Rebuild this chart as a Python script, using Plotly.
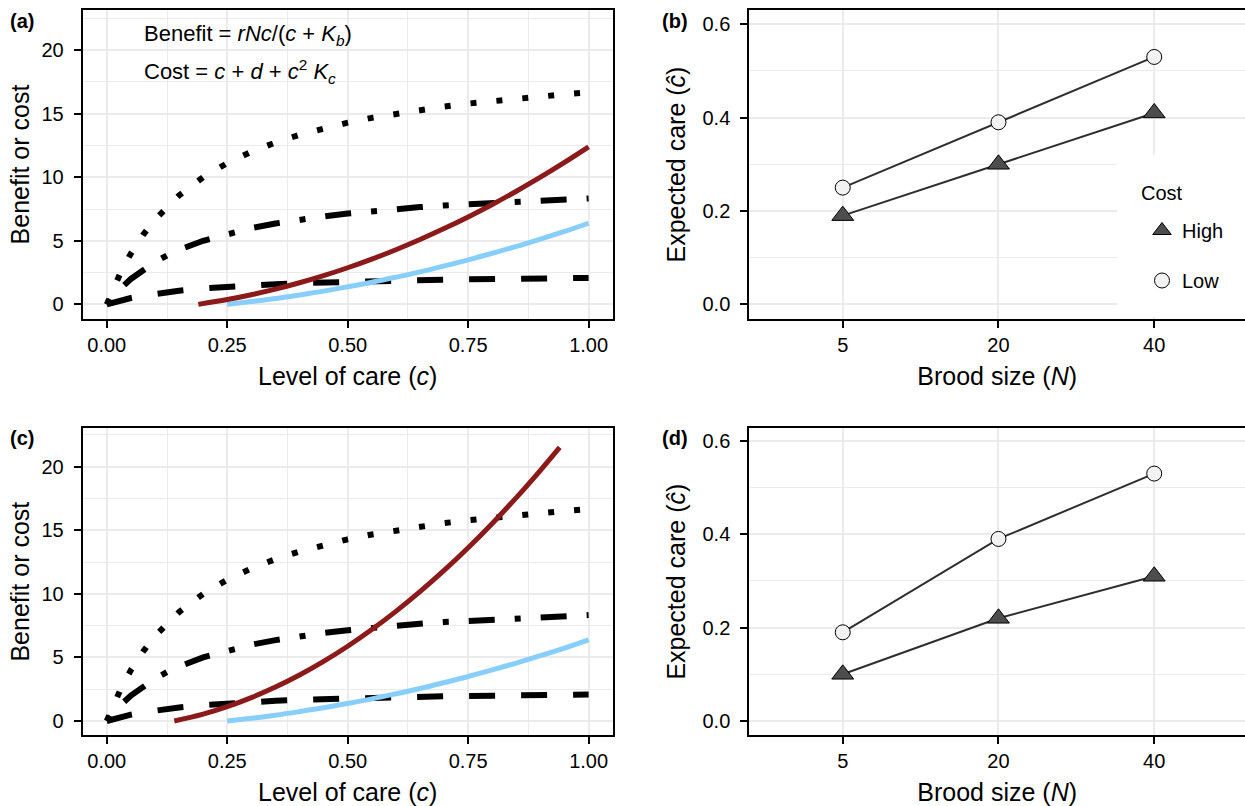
import plotly.graph_objects as go

# ---------------- data ----------------
care_levels = [0, 0.01, 0.02, 0.03, 0.05, 0.075, 0.1, 0.125, 0.15, 0.2, 0.25, 0.3, 0.35,
               0.4, 0.45, 0.5, 0.55, 0.6, 0.65, 0.7, 0.75, 0.8, 0.85, 0.9, 0.95, 1.0]
benefit_n40 = [0, 0.95, 1.82, 2.61, 4.0, 5.45, 6.67, 7.69, 8.57, 10.0, 11.11, 12.0, 12.73,
               13.33, 13.85, 14.29, 14.67, 15.0, 15.29, 15.56, 15.79, 16.0, 16.19, 16.36, 16.52, 16.67]
benefit_n20 = [0, 0.48, 0.91, 1.30, 2.0, 2.73, 3.33, 3.85, 4.29, 5.0, 5.56, 6.0, 6.36,
               6.67, 6.92, 7.14, 7.33, 7.5, 7.65, 7.78, 7.89, 8.0, 8.1, 8.18, 8.26, 8.33]
benefit_n5 = [0, 0.12, 0.23, 0.33, 0.5, 0.68, 0.83, 0.96, 1.07, 1.25, 1.39, 1.5, 1.59,
              1.67, 1.73, 1.79, 1.83, 1.88, 1.91, 1.94, 1.97, 2.0, 2.02, 2.05, 2.07, 2.08]

low_cost_care = [0.25, 0.3, 0.35, 0.4, 0.45, 0.5, 0.55, 0.6, 0.65, 0.7, 0.75, 0.8, 0.85, 0.9, 0.95, 1.0]
low_cost = [0, 0.22, 0.46, 0.74, 1.04, 1.38, 1.74, 2.14, 2.56, 3.02, 3.5, 4.02, 4.56, 5.14, 5.74, 6.38]

high_cost_a_care = [0.19, 0.25, 0.3, 0.35, 0.4, 0.45, 0.5, 0.55, 0.6, 0.65, 0.7, 0.75, 0.8, 0.85, 0.9, 0.95, 1.0]
high_cost_a = [0, 0.38, 0.76, 1.2, 1.7, 2.26, 2.88, 3.56, 4.3, 5.1, 5.96, 6.88, 7.86, 8.9, 10.0, 11.16, 12.38]

high_cost_c_care = [0.14, 0.2, 0.25, 0.3, 0.35, 0.4, 0.45, 0.5, 0.55, 0.6, 0.65, 0.7, 0.75, 0.8, 0.85, 0.9, 0.94]
high_cost_c = [0, 0.54, 1.13, 1.84, 2.67, 3.62, 4.69, 5.88, 7.19, 8.62, 10.17, 11.84, 13.63, 15.54, 17.57, 19.72, 21.52]

brood_sizes = ["5", "20", "40"]
care_b_high = [0.19, 0.30, 0.41]
care_b_low = [0.25, 0.39, 0.53]
care_d_high = [0.10, 0.22, 0.31]
care_d_low = [0.19, 0.39, 0.53]

# ---------------- layout helpers ----------------
W, H = 1245, 806
FONT = "Liberation Sans, Arial, Helvetica, sans-serif"
GRID = "#EBEBEB"
DARK_RED = "#8B1A1A"
LIGHT_BLUE = "#87CEFA"


def fx(p):
    return p / W


def fy(p):
    return 1 - p / H


x_left_dom = [fx(82.7), fx(612.7)]
x_right_dom = [fx(749.3), 1.0]
y_top_dom = [fy(319), fy(10)]
y_bot_dom = [fy(735), fy(428.3)]


def axis(**kw):
    d = dict(showline=True, linecolor="black", linewidth=2, mirror=True,
             ticks="outside", ticklen=7, tickwidth=2, tickcolor="black",
             showgrid=True, gridcolor=GRID, gridwidth=2, zeroline=False,
             tickfont=dict(family=FONT, size=20, color="black"),
             automargin=False)
    d.update(kw)
    return d


fig = go.Figure()

LW = 6
dash_dot = "6px,20px"
dash_dotdash = "6px,20px,26px,20px"
dash_dash = "26px,26px"


def add_benefits(xa, ya):
    for vals, dash in [(benefit_n40, dash_dot), (benefit_n20, dash_dotdash), (benefit_n5, dash_dash)]:
        fig.add_trace(go.Scatter(x=care_levels, y=vals, mode="lines", xaxis=xa, yaxis=ya,
                                 line=dict(color="black", width=LW, dash=dash),
                                 showlegend=False, hoverinfo="skip"))


add_benefits("x", "y")
fig.add_trace(go.Scatter(x=low_cost_care, y=low_cost, mode="lines", xaxis="x", yaxis="y",
                         line=dict(color=LIGHT_BLUE, width=5, shape="spline"), showlegend=False))
fig.add_trace(go.Scatter(x=high_cost_a_care, y=high_cost_a, mode="lines", xaxis="x", yaxis="y",
                         line=dict(color=DARK_RED, width=5, shape="spline"), showlegend=False))

add_benefits("x3", "y3")
fig.add_trace(go.Scatter(x=low_cost_care, y=low_cost, mode="lines", xaxis="x3", yaxis="y3",
                         line=dict(color=LIGHT_BLUE, width=5, shape="spline"), showlegend=False))
fig.add_trace(go.Scatter(x=high_cost_c_care, y=high_cost_c, mode="lines", xaxis="x3", yaxis="y3",
                         line=dict(color=DARK_RED, width=5, shape="spline"), showlegend=False))

LINE_COL = "#2E2E2E"
TRI = dict(symbol="triangle-up", size=19, color="#4D4D4D", line=dict(color="black", width=1))
CIR = dict(symbol="circle", size=15, color="#F2F2F2", line=dict(color="black", width=1))


def add_care(xa, ya, high, low, legend):
    for vals in (high, low):
        fig.add_trace(go.Scatter(x=brood_sizes, y=vals, mode="lines", xaxis=xa, yaxis=ya,
                                 line=dict(color=LINE_COL, width=2), showlegend=False))
    fig.add_trace(go.Scatter(x=brood_sizes, y=high, mode="markers", xaxis=xa, yaxis=ya,
                             marker=TRI, name="High", legendgroup="high", showlegend=legend))
    fig.add_trace(go.Scatter(x=brood_sizes, y=low, mode="markers", xaxis=xa, yaxis=ya,
                             marker=CIR, name="Low", legendgroup="low", showlegend=legend))


add_care("x2", "y2", care_b_high, care_b_low, True)
add_care("x4", "y4", care_d_high, care_d_low, False)

title_font = dict(family=FONT, size=25, color="black")
care_x = dict(range=[-0.05, 1.05], dtick=0.25, tick0=0, tickformat=".2f",
              minor=dict(dtick=0.125, showgrid=True, gridcolor=GRID, gridwidth=1),
              title=dict(text="Level of care (<i>c</i>)", font=title_font, standoff=12))
bc_y = dict(dtick=5, tick0=0, ticklabelstandoff=6,
            minor=dict(dtick=2.5, showgrid=True, gridcolor=GRID, gridwidth=1),
            title=dict(text="Benefit or cost", font=title_font, standoff=5))
brood_x = dict(type="category", categoryorder="array", categoryarray=brood_sizes,
               range=[-0.6, 2.583],
               title=dict(text="Brood size (<i>N</i>)", font=title_font, standoff=12))
ec_y = dict(dtick=0.2, tick0=0, tickformat=".1f", mirror=False, ticklabelstandoff=6,
            minor=dict(dtick=0.1, showgrid=True, gridcolor=GRID, gridwidth=1),
            title=dict(text="Expected care (<i>ĉ</i>)", font=title_font, standoff=10))

fig.update_layout(
    width=W, height=H,
    margin=dict(l=0, r=0, t=0, b=0),
    paper_bgcolor="white", plot_bgcolor="white",
    font=dict(family=FONT, size=20, color="black"),
    xaxis=axis(domain=x_left_dom, anchor="y", **care_x),
    yaxis=axis(domain=y_top_dom, anchor="x", range=[-1.15, 23.15], **bc_y),
    xaxis2=axis(domain=x_right_dom, anchor="y2", **brood_x),
    yaxis2=axis(domain=y_top_dom, anchor="x2", range=[-0.0315, 0.6306], **ec_y),
    xaxis3=axis(domain=x_left_dom, anchor="y3", **care_x),
    yaxis3=axis(domain=y_bot_dom, anchor="x3", range=[-1.1, 23.02], **bc_y),
    xaxis4=axis(domain=x_right_dom, anchor="y4", **brood_x),
    yaxis4=axis(domain=y_bot_dom, anchor="x4", range=[-0.03, 0.627], **ec_y),
    legend=dict(x=fx(1142), xanchor="left", y=fy(211), yanchor="top",
                bgcolor="rgba(0,0,0,0)", borderwidth=0,
                font=dict(family=FONT, size=20, color="black"),
                tracegroupgap=21),
    shapes=[dict(type="rect", xref="paper", yref="paper",
                 x0=fx(1117), x1=1.0, y0=fy(317), y1=fy(155),
                 fillcolor="white", line=dict(width=0), layer="above")],
    annotations=[
        dict(text="<b>(a)</b>", x=fx(8), y=fy(21), xref="paper", yref="paper",
             xanchor="left", yanchor="middle", showarrow=False, font=dict(size=20)),
        dict(text="<b>(b)</b>", x=fx(660), y=fy(21), xref="paper", yref="paper",
             xanchor="left", yanchor="middle", showarrow=False, font=dict(size=20)),
        dict(text="<b>(c)</b>", x=fx(8), y=fy(438), xref="paper", yref="paper",
             xanchor="left", yanchor="middle", showarrow=False, font=dict(size=20)),
        dict(text="<b>(d)</b>", x=fx(660), y=fy(438), xref="paper", yref="paper",
             xanchor="left", yanchor="middle", showarrow=False, font=dict(size=20)),
        dict(text="Cost", x=fx(1139), y=fy(193), xref="paper", yref="paper",
             xanchor="left", yanchor="middle", showarrow=False, font=dict(size=20)),
        dict(text="Benefit = <i>rNc</i>/(<i>c</i> + <i>K</i><sub><i>b</i></sub>)",
             x=fx(142), y=fy(35), xref="paper", yref="paper",
             xanchor="left", yanchor="middle", showarrow=False, font=dict(size=22)),
        dict(text="Cost = <i>c</i> + <i>d</i> + <i>c</i><sup>2</sup> <i>K</i><sub><i>c</i></sub>",
             x=fx(142), y=fy(72), xref="paper", yref="paper",
             xanchor="left", yanchor="middle", showarrow=False, font=dict(size=22)),
    ],
)

fig.write_html("out.html")
